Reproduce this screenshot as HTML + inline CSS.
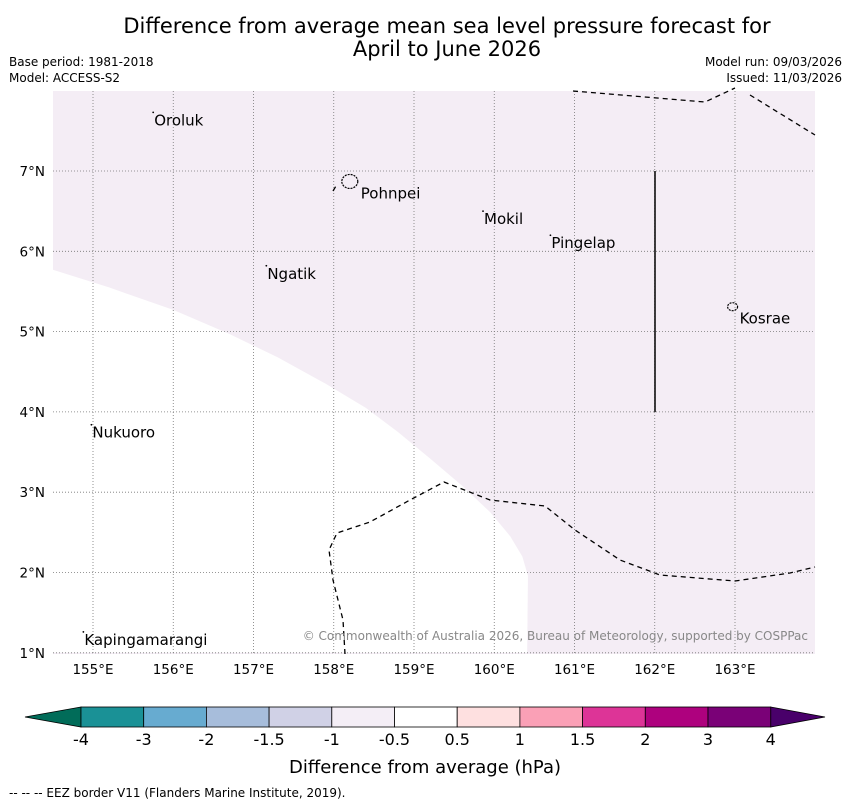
<!DOCTYPE html>
<html><head><meta charset="utf-8"><style>
body{margin:0;background:#fff;font-family:"Liberation Sans",sans-serif;}
svg text{font-family:"DejaVu Sans","Liberation Sans",sans-serif;}
</style></head><body>
<svg width="850" height="804" viewBox="0 0 850 804">
<text x="447" y="33" font-size="21" text-anchor="middle">Difference from average mean sea level pressure forecast for</text>
<text x="447" y="56" font-size="21" text-anchor="middle">April to June 2026</text>
<text x="9" y="66" font-size="12">Base period: 1981-2018</text>
<text x="9" y="82" font-size="12">Model: ACCESS-S2</text>
<text x="842" y="66" font-size="12" text-anchor="end">Model run: 09/03/2026</text>
<text x="842" y="82" font-size="12" text-anchor="end">Issued: 11/03/2026</text>
<g id="map"></g>
<g id="cbar"></g>
<text x="425" y="773" font-size="18" text-anchor="middle">Difference from average (hPa)</text>
<text x="9" y="797" font-size="12">--  --  -- EEZ border V11 (Flanders Marine Institute, 2019).</text>
</svg>
<script>
const lonTicks=[155,156,157,158,159,160,161,162,163];
const latTicks=[1,2,3,4,5,6,7];
const placeNames=["Oroluk","Pohnpei","Mokil","Pingelap","Ngatik","Kosrae","Nukuoro","Kapingamarangi"];
const placeLon=[155.75,158.2,159.86,160.7,157.16,162.97,154.98,154.88];
const placeLat=[7.73,6.87,6.5,6.2,5.82,5.31,3.84,1.26];
const cbLevels=["-4","-3","-2","-1.5","-1","-0.5","0.5","1","1.5","2","3","4"];
const cbColors=["#1a9196","#67abd0","#a7bddb","#d0d1e6","#f4eef6","#ffffff","#fee0e0","#faa0b6","#dd3497","#ae017e","#7a0177"];
const NS="http://www.w3.org/2000/svg";
const X=lon=>93+(lon-155)*80.25, Y=lat=>171+(7-lat)*80.3;
function mk(p,t,a){const e=document.createElementNS(NS,t);for(const k in a)e.setAttribute(k,a[k]);p.appendChild(e);return e;}
const map=document.getElementById('map');
let r=mk(map,'rect',{x:53,y:91,width:762,height:563,fill:'#f4edf5'});


const wl=[[154.5,5.77],[155.2,5.55],[156,5.27],[156.7,4.97],[157.3,4.68],[157.9,4.35],[158.4,4.05],[158.8,3.75],[159.2,3.42],[159.6,3.08],[159.95,2.75],[160.2,2.45],[160.35,2.2],[160.42,1.96],[160.41,1],[154.5,1]];
let w=mk(map,'polygon',{points:wl.map(p=>X(p[0])+','+Y(p[1])).join(' '),fill:'#fff'});


lonTicks.forEach(l=>{let g=mk(map,'line',{x1:X(l),x2:X(l),y1:91,y2:654,stroke:'#777','stroke-width':0.8,'stroke-dasharray':'1,2'});

let t=mk(map,'text',{x:X(l),y:674,'font-size':13.5,'text-anchor':'middle'});t.textContent=l+'°E';
});
latTicks.forEach(l=>{let g=mk(map,'line',{x1:53,x2:815,y1:Y(l),y2:Y(l),stroke:'#777','stroke-width':0.8,'stroke-dasharray':'1,2'});

let t=mk(map,'text',{x:45,y:Y(l)+5,'font-size':13.5,'text-anchor':'end'});t.textContent=l+'°N';
});
const eez1=[[573,91],[705,102],[735,88]],eez2=[[750,95],[815,135]],eez3=[[345,654],[343,620],[333,580],[329,550],[337,533],[370,522],[410,500],[444,482],[490,500],[545,506],[575,530],[620,560],[660,575],[735,581],[790,573],[815,567]];
[eez1,eez2,eez3,[[333,191],[336,186]]].forEach(a=>{let p=mk(map,'polyline',{points:a.join(' '),fill:'none',stroke:'#000','stroke-width':1.3,'stroke-dasharray':'5,4'});
});
let v=mk(map,'line',{x1:655,x2:655,y1:171,y2:412,stroke:'#000','stroke-width':1.5});

placeNames.forEach((n,i)=>{const x=X(placeLon[i]),y=Y(placeLat[i]);
let isl=(n==='Pohnpei'||n==='Kosrae');
let m=mk(map,isl?'ellipse':'circle',isl?{cx:x,cy:y,rx:n==='Pohnpei'?8:5,ry:n==='Pohnpei'?7:4,fill:'none',stroke:'#000','stroke-width':1.2,'stroke-dasharray':'2,1'}:{cx:x,cy:y,r:0.9,fill:'#000'});

let t=mk(map,'text',{x:x+(isl?(n==='Pohnpei'?11:7):1),y:y+(isl?17:13),'font-size':15});t.textContent=n;
});
let c=mk(map,'text',{x:808,y:640,'font-size':12,'text-anchor':'end',fill:'#888'});c.textContent='© Commonwealth of Australia 2026, Bureau of Meteorology, supported by COSPPac';

const cb=document.getElementById('cbar');const bx0=81,bw=62.7,by=707,bh=20;
let lt=mk(cb,'polygon',{points:`${bx0},${by} 25,${by+10} ${bx0},${by+bh}`,fill:'#016c59',stroke:'#000','stroke-width':0.8});

let rt=mk(cb,'polygon',{points:`${bx0+11*bw},${by} 825,${by+10} ${bx0+11*bw},${by+bh}`,fill:'#49006a',stroke:'#000','stroke-width':0.8});

cbColors.forEach((col,i)=>{let b=mk(cb,'rect',{x:bx0+i*bw,y:by,width:bw,height:bh,fill:col,stroke:'#000','stroke-width':0.8});
});
cbLevels.forEach((l,i)=>{let t=mk(cb,'text',{x:bx0+i*bw,y:745,'font-size':16,'text-anchor':'middle'});t.textContent=l;
});
</script>
</body></html>
